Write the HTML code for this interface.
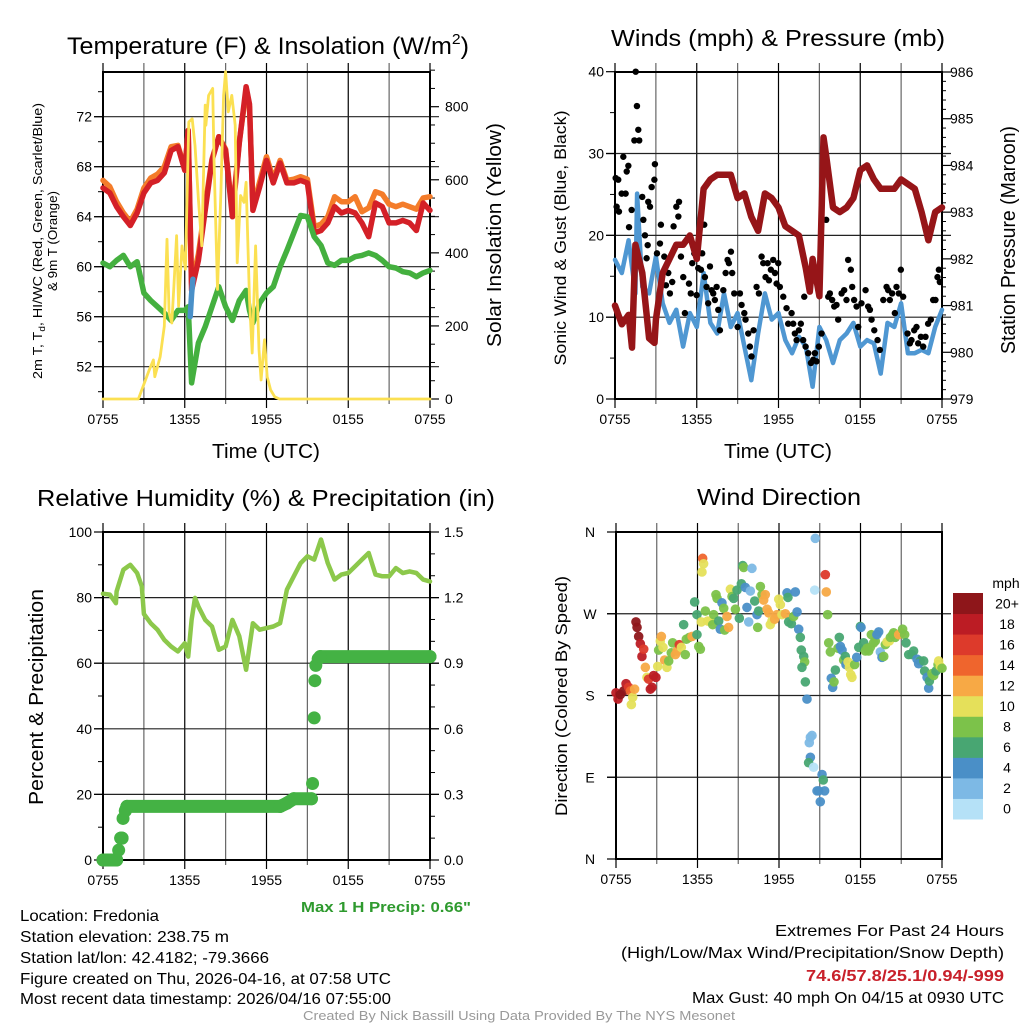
<!DOCTYPE html>
<html><head><meta charset="utf-8"><title>Mesonet Meteogram - Fredonia</title>
<style>
html,body{margin:0;padding:0;background:#fff;}
svg{display:block;font-family:"Liberation Sans",Arial,sans-serif;}
</style></head>
<body>
<svg id="fig" xmlns="http://www.w3.org/2000/svg" width="1024" height="1024" viewBox="0 0 1024 1024">
<rect x="0" y="0" width="1024" height="1024" fill="#fff"/>
<text x="268" y="54" font-size="24" text-anchor="middle" textLength="402" lengthAdjust="spacingAndGlyphs">Temperature (F) &amp; Insolation (W/m<tspan font-size="15" dy="-10">2</tspan><tspan dy="10">)</tspan></text>
<text x="778" y="46" font-size="23" text-anchor="middle" textLength="334" lengthAdjust="spacingAndGlyphs">Winds (mph) &amp; Pressure (mb)</text>
<text x="266" y="506" font-size="23" text-anchor="middle" textLength="458" lengthAdjust="spacingAndGlyphs">Relative Humidity (%) &amp; Precipitation (in)</text>
<text x="779" y="505" font-size="23" text-anchor="middle" textLength="164" lengthAdjust="spacingAndGlyphs">Wind Direction</text>

<text x="266" y="458" font-size="20" text-anchor="middle" textLength="108" lengthAdjust="spacingAndGlyphs">Time (UTC)</text>
<text x="778" y="458" font-size="20" text-anchor="middle" textLength="108" lengthAdjust="spacingAndGlyphs">Time (UTC)</text>

<text transform="translate(42,241) rotate(-90)" font-size="13" text-anchor="middle" textLength="276" lengthAdjust="spacingAndGlyphs">2m T, T<tspan font-size="9" dy="3">d</tspan><tspan dy="-3">, HI/WC (Red, Green, Scarlet/Blue)</tspan></text>
<text transform="translate(57,241) rotate(-90)" font-size="13" text-anchor="middle" textLength="100" lengthAdjust="spacingAndGlyphs">&amp; 9m T (Orange)</text>
<text transform="translate(501,235) rotate(-90)" font-size="20" text-anchor="middle" textLength="224" lengthAdjust="spacingAndGlyphs">Solar Insolation (Yellow)</text>
<text transform="translate(566,238) rotate(-90)" font-size="17" text-anchor="middle" textLength="255" lengthAdjust="spacingAndGlyphs">Sonic Wind &amp; Gust (Blue, Black)</text>
<text transform="translate(1015,240) rotate(-90)" font-size="20" text-anchor="middle" textLength="228" lengthAdjust="spacingAndGlyphs">Station Pressure (Maroon)</text>
<text transform="translate(43,697) rotate(-90)" font-size="20" text-anchor="middle" textLength="216" lengthAdjust="spacingAndGlyphs">Percent &amp; Precipitation</text>
<text transform="translate(567,696) rotate(-90)" font-size="17" text-anchor="middle" textLength="240" lengthAdjust="spacingAndGlyphs">Direction (Colored By Speed)</text>

<text x="471" y="912" font-size="15" font-weight="bold" fill="#2e9a2e" text-anchor="end" textLength="170" lengthAdjust="spacingAndGlyphs">Max 1 H Precip: 0.66"</text>
<text x="20" y="921" font-size="16" textLength="139" lengthAdjust="spacingAndGlyphs">Location: Fredonia</text>
<text x="20" y="942" font-size="16" textLength="209" lengthAdjust="spacingAndGlyphs">Station elevation: 238.75 m</text>
<text x="20" y="963" font-size="16" textLength="249" lengthAdjust="spacingAndGlyphs">Station lat/lon: 42.4182; -79.3666</text>
<text x="20" y="984" font-size="16" textLength="371" lengthAdjust="spacingAndGlyphs">Figure created on Thu, 2026-04-16, at 07:58 UTC</text>
<text x="20" y="1004" font-size="16" textLength="371" lengthAdjust="spacingAndGlyphs">Most recent data timestamp: 2026/04/16 07:55:00</text>
<text x="1004" y="936" font-size="16" text-anchor="end" textLength="229" lengthAdjust="spacingAndGlyphs">Extremes For Past 24 Hours</text>
<text x="1004" y="958" font-size="16" text-anchor="end" textLength="383" lengthAdjust="spacingAndGlyphs">(High/Low/Max Wind/Precipitation/Snow Depth)</text>
<text x="1004" y="981" font-size="16" font-weight="bold" fill="#c8202a" text-anchor="end" textLength="198" lengthAdjust="spacingAndGlyphs">74.6/57.8/25.1/0.94/-999</text>
<text x="1004" y="1003" font-size="16" text-anchor="end" textLength="312" lengthAdjust="spacingAndGlyphs">Max Gust: 40 mph On 04/15 at 0930 UTC</text>
<text x="519" y="1020" font-size="13" fill="#999" text-anchor="middle" textLength="432" lengthAdjust="spacingAndGlyphs">Created By Nick Bassill Using Data Provided By The NYS Mesonet</text>
<text x="1006" y="588" font-size="14" text-anchor="middle">mph</text>
</svg>
<script>
// ---------- Data ----------
const timeTickLabels = ["0755","1355","1955","0155","0755"];
// Temperature panel
const tempHour = [0,0.5,1,1.5,2,2.5,3,3.5,4,4.5,5,5.5,6,6.25,6.5,7,7.5,8,8.5,9,9.5,10,10.5,10.75,11,11.5,12,12.5,13,13.5,14,14.5,15,15.5,16,16.5,17,17.5,18,18.5,19,19.5,20,20.5,21,21.5,22,22.5,23,23.5,24];
const tempRed = [66.3,65.9,64.8,64.0,63.3,64.3,65.9,66.7,66.9,67.5,69.3,69.6,67.7,70.9,58.1,60.5,64.5,68.5,70.4,69.3,64.0,69.9,74.4,73.0,64.5,66.4,68.5,66.7,68.3,66.7,66.7,66.9,66.7,62.7,62.9,63.5,64.8,64.3,64.5,64.3,63.5,62.4,65.1,64.8,63.5,63.5,63.7,63.5,62.9,65.1,64.5];
const tempOrange = [66.9,66.4,65.2,64.3,63.6,64.6,66.3,67.1,67.4,68.0,69.6,69.7,67.9,70.7,58.6,61.0,64.9,68.6,70.4,69.4,64.3,70.0,74.0,72.8,64.8,66.8,68.8,67.0,68.5,66.9,67.0,67.2,67.0,63.2,63.4,64.0,65.6,65.2,65.2,65.6,64.4,64.7,66.0,65.8,65.0,64.8,65.0,64.8,64.6,65.5,65.6];
const tempGreen = [60.3,60.0,60.5,60.9,60.0,60.4,57.9,57.3,56.8,56.3,55.7,56.5,56.5,56.8,50.7,53.9,55.2,56.8,58.4,56.8,55.7,57.3,58.1,56.5,55.5,57.1,57.9,58.4,60.0,61.3,62.7,64.1,64.0,62.4,61.7,60.3,60.1,60.5,60.5,60.8,60.9,61.1,60.9,60.5,60.0,59.9,59.6,59.5,59.2,59.5,59.7];
const chillHour = [6.4,6.5,6.6];
const chillVal = [56.0,57.8,59.0];
const solarHour = [0,2.6,2.9,3.4,3.7,3.8,4.2,4.5,4.7,4.85,5.05,5.2,5.4,5.55,5.8,6.05,6.3,6.55,6.75,7.0,7.25,7.5,7.55,7.75,8.05,8.15,8.4,8.65,8.85,9.0,9.2,9.45,9.7,9.85,10.1,10.35,10.5,10.75,10.95,11.2,11.45,11.6,11.85,12.05,12.3,12.6,12.95,13.25,13.5,24];
const solarVal = [0,0,30,80,107,61,116,199,437,236,208,309,447,254,419,355,758,767,694,547,419,804,749,831,850,657,300,566,831,896,786,831,749,373,557,538,593,272,126,419,135,52,162,61,25,6,0,0,0,0];
const tempTicks = [52,56,60,64,68,72];
const solarTicks = [0,200,400,600,800];
// Winds panel
const windHour = [0,0.5,1,1.5,1.62,2,2.5,3,3.5,4,4.5,5,5.5,6,6.5,7,7.5,8,8.5,9,9.5,10,10.5,11,11.5,12,12.5,13,13.5,14,14.5,15,15.5,16,16.5,17,17.5,18,18.5,19,19.5,20,20.5,21,21.5,22,22.5,23,23.5,24];
const windVal = [17.0,15.4,19.4,12.9,25.1,13.7,12.9,17.4,11.7,9.3,10.9,6.4,10.5,8.8,15.4,9.3,8.0,12.9,8.8,10.5,6.4,2.3,8.0,12.9,9.7,10.5,7.2,5.6,7.6,6.4,1.5,8.8,7.2,4.4,7.2,8.0,9.3,6.4,7.2,6.8,3.1,9.3,8.8,11.7,5.6,5.6,6.0,5.6,8.8,10.9];
const pressHour = [0,0.5,1,1.25,1.5,2,2.5,2.9,3,3.5,4,4.5,5,5.5,6,6.5,7,7.5,8,8.5,9,9.5,10,10.5,11,11.5,12,12.5,13,13.5,14,14.3,14.5,15,15.3,15.5,16,16.5,17,17.5,18,18.5,19,19.5,20,20.5,21,21.5,22,22.5,23,23.5,24];
const pressVal = [981.0,980.6,980.8,980.1,982.3,981.7,980.3,980.2,980.7,981.7,982.0,982.3,982.3,982.5,982.0,983.5,983.7,983.8,983.8,983.8,983.3,983.4,982.9,982.6,983.4,983.3,983.1,982.7,982.6,982.5,981.8,981.3,982.0,981.2,984.6,984.2,983.1,983.0,983.1,983.3,983.9,984.0,983.7,983.5,983.5,983.5,983.7,983.6,983.5,983.0,982.4,983.0,983.1];
const gustHour = [0.05,0.24,0.12,0.29,0.61,0.49,0.78,0.86,0.98,1.03,1.22,1.42,1.52,1.61,1.71,1.78,2.0,2.08,2.2,2.4,2.32,2.44,2.57,2.69,2.89,2.93,3.08,3.3,3.37,3.62,3.74,3.91,4.03,4.2,4.3,4.5,4.65,4.7,4.84,5.01,5.13,5.43,5.56,5.67,5.82,5.99,6.11,6.31,6.4,6.55,6.6,6.72,6.84,6.97,7.09,7.21,7.33,7.46,7.58,7.7,7.95,8.12,8.26,8.36,8.51,8.6,8.75,9.0,9.17,9.29,9.49,9.58,9.78,9.9,10.02,10.17,10.39,10.56,10.76,10.88,11.05,11.2,11.3,11.44,11.61,11.74,11.86,11.98,12.1,12.35,12.59,12.71,12.96,13.08,13.2,13.33,13.5,13.64,13.81,13.89,13.99,14.18,14.38,14.55,14.67,14.79,14.96,15.16,15.5,15.65,15.77,15.94,16.09,16.26,16.38,16.63,16.82,16.99,17.11,17.31,17.41,17.55,17.73,17.85,18.09,18.39,18.58,18.71,18.83,19.03,19.27,19.44,19.69,19.93,20.05,20.17,20.34,20.54,20.66,20.83,20.98,21.15,21.47,21.64,21.76,21.96,22.13,22.25,22.45,22.62,22.79,22.98,23.18,23.35,23.52,23.67,23.77,23.84];
const gustVal = [27,26.8,23.5,22.9,29.6,25.1,25.1,27.8,28.5,21,23.1,31.6,40,35.8,32.9,31.6,24.7,21.9,20,18.8,17.2,24.1,23.5,25.9,26.8,28.7,17.8,19,21.3,17.4,13.9,15.4,12.9,14.3,21.1,23.5,22.3,24.1,17.4,14.9,10.5,14.1,12.9,16.6,17.8,12.7,16,15.8,17.8,21.3,14.9,13.7,11.7,16.2,13.3,12.9,12.1,13.7,10.9,8.4,13.3,15.4,17,16.6,18,15.4,12.9,8.8,12.9,11.5,10.5,9.7,8,6.4,5.2,8.4,13.7,12.9,17.4,16.6,14.9,16.6,14.5,15.8,17,15.4,14.1,16.6,13.7,12.5,11.1,9.2,10.5,9.2,8,7.2,8.4,9.2,7.2,12.5,6.4,5.6,4.4,4.8,5.6,4.6,6.4,8,21.9,12.5,12.9,12.1,11.3,11.5,9.7,12.9,13.3,12.1,17,15.8,13.7,12.1,11.3,8.8,11.7,13.3,11.3,10.9,9.7,8.4,7.2,6.0,12.1,13.7,13.3,12.1,12.9,10.5,13.7,12.9,15.8,12.5,8,6.8,7.2,8.4,8.8,6.8,7.6,6.4,7.6,9.2,9.7,12.1,12.1,14.9,15.8,14.3];
const windTicks = [0,10,20,30,40];
const pressTicks = [979,980,981,982,983,984,985,986];
// Humidity / precipitation panel
const rhHour = [0,0.5,0.95,1,1.5,2,2.5,2.85,3,3.5,4,4.5,5,5.5,6,6.25,6.5,6.75,7,7.5,8,8.5,9,9.5,10,10.5,11,11.5,12,12.5,13,13.5,14,14.5,15,15.5,16,16.5,17,17.5,18,18.5,19,19.5,20,20.5,21,21.5,22,22.5,23,23.5,24];
const rhVal = [81.2,80.9,78.3,81.9,88.5,90.0,87.5,83.4,75.0,72.2,70.2,67.1,65.1,63.6,66.1,62.0,73.2,79.9,77.3,73.2,71.2,64.1,65.1,73.2,68.2,58.0,72.2,70.2,70.7,71.2,72.2,82.4,86.5,90.5,92.6,91.6,97.7,90.5,85.5,87.0,87.5,89.5,91.6,93.6,87.0,86.5,86.5,89.0,87.5,88.0,87.5,85.5,84.9];
const precipHour = [0,1.0,1.15,1.3,1.4,1.47,1.64,1.76,13.0,13.5,14.0,15.3,15.38,15.5,15.55,15.62,15.8,15.94,24];
const precipVal = [0,0,0.045,0.10,0.10,0.19,0.225,0.245,0.245,0.26,0.28,0.28,0.35,0.65,0.82,0.89,0.92,0.93,0.93];
const rhTicks = [0,20,40,60,80,100];
const precipTicks = ["0.0","0.3","0.6","0.9","1.2","1.5"];
// Wind direction panel
const dirHour = [0,0.15,0.32,0.56,0.74,0.93,1.06,1.23,1.13,1.37,1.47,1.55,1.67,1.79,1.91,2.04,2.16,2.28,2.40,2.53,2.65,2.77,2.94,3.07,3.14,3.26,3.34,3.46,3.58,3.75,3.88,4.07,4.17,4.37,4.49,4.66,4.81,4.98,5.10,5.18,5.40,5.60,5.79,5.96,5.96,6.09,6.21,6.28,6.38,6.45,6.33,6.58,6.75,6.94,7.12,7.19,7.36,7.44,7.56,7.68,7.80,7.93,8.0,8.17,8.29,8.42,8.54,8.66,8.79,8.91,9.08,9.23,9.33,9.40,9.52,9.64,9.77,9.89,10.01,10.21,10.38,10.43,10.50,10.63,10.75,10.87,10.99,11.12,11.24,11.36,11.48,11.68,11.85,11.98,12.10,12.22,12.47,12.59,12.66,12.71,12.91,13.08,13.20,13.33,13.45,13.57,13.64,13.82,13.89,13.69,13.94,14.06,14.31,14.43,14.23,14.31,14.18,14.55,14.67,14.63,15.17,15.26,14.92,15.36,14.80,15.04,15.41,15.48,15.58,15.66,15.78,16.15,15.85,15.95,16.05,16.34,16.44,16.52,16.64,16.76,16.88,16.93,17.08,17.18,17.28,17.37,17.57,17.72,17.87,17.99,18.04,18.23,18.36,18.48,18.60,18.72,18.80,18.97,19.09,19.21,19.34,19.46,19.58,19.71,19.83,19.95,20.12,20.20,20.37,20.44,20.56,20.81,21.01,21.10,21.25,21.35,21.55,21.79,21.91,22.16,22.40,22.28,22.65,22.72,22.90,23.02,23.07,23.26,23.39,23.56,23.71,23.75,23.88,24.0];
const dirDeg = [183,176,181,185,193,189,185,178,170,187,261,255,245,237,223,231,211,200,198,187,189,202,200,212,230,240,245,233,219,211,218,227,238,225,229,236,233,258,225,242,244,245,283,269,247,234,231,261,331,325,316,273,262,262,258,269,291,287,262,253,282,276,252,267,255,297,289,287,275,296,265,303,323,321,299,277,261,295,320,284,269,255,273,300,291,285,291,275,271,258,262,264,269,286,280,269,270,293,288,261,259,267,294,272,253,244,230,223,217,211,195,176,134,136,128,112,106,101,353,296,93,87,75,75,75,63,313,294,269,238,228,208,199,189,195,232,244,234,230,219,223,214,217,211,203,200,214,222,233,256,255,238,229,232,229,233,247,238,240,247,250,228,222,223,236,239,240,244,247,249,244,247,249,253,247,238,225,225,229,220,218,215,218,207,200,188,196,204,202,207,214,218,212,210];
const dirSpeed = [18,18,20,20,18,16,14,10,10,12,20,20,20,18,18,16,12,10,16,18,18,18,18,10,8,10,12,10,12,10,8,8,8,12,12,16,10,6,8,8,8,12,6,6,6,8,8,10,14,10,10,8,10,10,8,8,8,8,6,4,4,8,8,12,12,10,8,6,8,6,6,6,6,8,4,4,2,2,2,6,4,8,6,8,8,12,12,12,12,10,10,12,12,10,10,10,12,4,6,6,6,8,4,4,4,6,6,6,8,6,6,4,2,2,2,4,6,0,2,0,4,6,4,4,4,4,16,12,8,8,8,6,4,4,8,8,6,4,4,8,6,4,10,10,10,10,8,4,6,6,4,6,8,8,8,8,8,8,8,4,4,2,4,8,8,10,10,8,8,8,8,12,12,8,8,6,6,6,6,4,6,4,6,6,4,4,6,8,8,6,8,10,10,8];
const dirTickLabels = ["N","E","S","W","N"];
const speedLabels = ["0","2","4","6","8","10","12","14","16","18","20+"];
const speedColors = ["#b5e1f7","#7db9e5","#4a8fc7","#48a672","#7cc24a","#e5e05a","#f7a945","#ef652d","#dd3a2b","#bc1c24","#8e161a"];

// ---------- Drawing ----------
const NS = "http://www.w3.org/2000/svg";
const svg = document.getElementById("fig");
function el(tag, attrs, parent){ const e=document.createElementNS(NS,tag); for(const k in attrs) e.setAttribute(k,attrs[k]); (parent||svg).appendChild(e); return e; }

function makePanel(name, x0, x1, y0, y1){
  const g = el("g", {});
  
  
  return {g, x0, x1, y0, y1, x: h => x0 + h/24*(x1-x0)};
}
function linScale(d0, d1, r0, r1){ return v => r0 + (v-d0)/(d1-d0)*(r1-r0); }

function frame(P, hLines, prefix){
  for(let h=0; h<=24; h+=3){
    const X = P.x(h);
    const gl = el("line",{x1:X,y1:P.y0-9,x2:X,y2:P.y1+(h%6===0?9:5),stroke:(h%6===0?"#000":"#666"),"stroke-width":1.2}, P.g);
    
    
  }
  hLines.forEach(Y=>{
    const hl = el("line",{x1:P.x0-9,y1:Y,x2:P.x1+9,y2:Y,stroke:"#222","stroke-width":1.2}, P.g);
    
    
  });
  const b = el("rect",{x:P.x0,y:P.y0,width:P.x1-P.x0,height:P.y1-P.y0,fill:"none",stroke:"#000","stroke-width":2}, P.g);
  
  
  for(let i=0;i<timeTickLabels.length;i++){
    const t = el("text",{x:P.x(i*6),y:P.y1+25,"font-size":14,"text-anchor":"middle"}, P.g);
    t.textContent = timeTickLabels[i];
    
    
  }
}
function minorTicks(P, side, vals, scale, len){
  vals.forEach(v=>{
    const Y = scale(v);
    const X = side==="left"?P.x0:P.x1;
    const m = el("line",{x1:X,y1:Y,x2:side==="left"?X-len:X+len,y2:Y,stroke:"#000","stroke-width":1}, P.g);
    
    
  });
}
function yLabels(P, side, vals, labels, scale, offset, anchor, prefix){
  vals.forEach((v,i)=>{
    const Y = scale(v);
    const t = el("text",{x: side==="left"?P.x0-offset:P.x1+offset, y:Y+5,"font-size":14,"text-anchor":anchor}, P.g);
    t.textContent = labels[i];
    
    
    const tk = el("line",{x1:side==="left"?P.x0-9:P.x1,y1:Y,x2:side==="left"?P.x0:P.x1+9,y2:Y,stroke:"#000","stroke-width":1.2}, P.g);
    
    
  });
}
function path(P, hs, vs, ys, color, w, name){
  let d = "";
  hs.forEach((h,i)=>{ d += (i?"L":"M") + P.x(h).toFixed(1) + "," + ys(vs[i]).toFixed(1); });
  const p = el("path",{d, fill:"none", stroke:color, "stroke-width":w, "stroke-linejoin":"round","stroke-linecap":"round"}, P.g);
  
  
  return p;
}

// Panel 1: temperature & insolation
const P1 = makePanel("temperature-panel", 103, 430, 72, 399);
const yT = linScale(72, 52, 116.7, 366.7);
const yS = linScale(0, 800, 399, 106.7);
frame(P1, tempTicks.map(yT), "temperature");
const tMinor=[]; for(let v=50; v<=74; v+=2) if(v%4!==0) tMinor.push(v);
minorTicks(P1,"left",tMinor,yT,5);
const sMinor=[]; for(let v=50; v<=900; v+=50) if(v%200!==0) sMinor.push(v);
minorTicks(P1,"right",sMinor,yS,5);
yLabels(P1,"left",tempTicks,tempTicks.map(String),yT,11,"end","temperature-left");
yLabels(P1,"right",solarTicks,solarTicks.map(String),yS,15,"start","solar-right");
path(P1, tempHour, tempOrange, yT, "#f47c2a", 5.5, "temperature-9m-orange-line");
path(P1, tempHour, tempRed, yT, "#d42027", 5.5, "temperature-2m-red-line");
path(P1, tempHour, tempGreen, yT, "#44b03f", 5.5, "dewpoint-green-line");
path(P1, chillHour, chillVal, yT, "#4a90c8", 5.5, "wind-chill-blue-line");
path(P1, solarHour, solarVal, yS, "#fbe052", 2.8, "solar-insolation-yellow-line");

// Panel 2: winds & pressure
const P2 = makePanel("winds-panel", 615, 942, 72, 399);
const yW = linScale(0, 40, 399, 71.7);
const yP = linScale(979, 986, 399, 72);
frame(P2, [10,20,30].map(yW), "winds");
minorTicks(P2,"left",[5,15,25,35],yW,5);
const pMinor=[]; for(let v=979.2; v<986; v+=0.2) if(Math.abs(v-Math.round(v))>0.05) pMinor.push(v);
minorTicks(P2,"right",pMinor,yP,4);
yLabels(P2,"left",windTicks,windTicks.map(String),yW,11,"end","wind-left");
yLabels(P2,"right",pressTicks,pressTicks.map(String),yP,8,"start","pressure-right");
path(P2, windHour, windVal, yW, "#4f97d2", 4.5, "sonic-wind-blue-line");
gustHour.forEach((h,i)=>{
  const c = el("circle",{cx:P2.x(h),cy:yW(gustVal[i]),r:3.2,fill:"#000"}, P2.g);
  
  
});
path(P2, pressHour, pressVal, yP, "#961518", 6.5, "station-pressure-maroon-line");

// Panel 3: humidity & precipitation
const P3 = makePanel("humidity-panel", 103, 430, 532, 860);
const yR = linScale(0, 100, 860, 532);
const yPr = linScale(0, 1.5, 860, 532);
frame(P3, [20,40,60,80].map(yR), "humidity");
minorTicks(P3,"left",[10,30,50,70,90],yR,5);
minorTicks(P3,"right",[0.1,0.2,0.4,0.5,0.7,0.8,1.0,1.1,1.3,1.4],yPr,5);
yLabels(P3,"left",rhTicks,rhTicks.map(String),yR,11,"end","humidity-left");
yLabels(P3,"right",precipTicks.map(Number),precipTicks,yPr,14,"start","precip-right");
path(P3, rhHour, rhVal, yR, "#8cc84b", 4.5, "relative-humidity-line");
for(let i=1;i<precipHour.length;i++){
  if(Math.abs(precipVal[i]-precipVal[i-1])<0.03){
    const s = el("line",{x1:P3.x(precipHour[i-1]),y1:yPr(precipVal[i-1]),x2:P3.x(precipHour[i]),y2:yPr(precipVal[i]),stroke:"#44b244","stroke-width":13,"stroke-linecap":"round"}, P3.g);
    
    
  }
}
precipHour.forEach((h,i)=>{
  const c = el("circle",{cx:P3.x(h),cy:yPr(precipVal[i]),r:6.5,fill:"#44b244"}, P3.g);
  
  
});

// Panel 4: wind direction
const P4 = makePanel("wind-direction-panel", 616, 942, 532, 859);
const yD = linScale(0, 360, 859, 532);
frame(P4, [90,180,270].map(yD), "direction");
yLabels(P4,"left",[0,90,180,270,360],dirTickLabels,yD,26,"middle","direction-left");
dirHour.forEach((h,i)=>{
  const idx = Math.min(10, Math.max(0, Math.round(dirSpeed[i]/2)));
  const c = el("circle",{cx:P4.x(h),cy:yD(dirDeg[i]),r:4.8,fill:speedColors[idx],"fill-opacity":0.95}, P4.g);
  
  
});
// colorbar
const cb = el("g",{});


const cbTop = 593, cbBot = 819, cbN = speedLabels.length, cbH = (cbBot-cbTop)/cbN;
speedLabels.forEach((lab,i)=>{
  const k = cbN-1-i;
  const r = el("rect",{x:953,y:cbTop+k*cbH,width:30,height:cbH+0.5,fill:speedColors[i]}, cb);
  
  
  const t = el("text",{x:1007,y:cbTop+k*cbH+cbH/2+5,"font-size":14,"text-anchor":"middle"}, cb);
  t.textContent = lab;
  
  
});
</script>
</body></html>
